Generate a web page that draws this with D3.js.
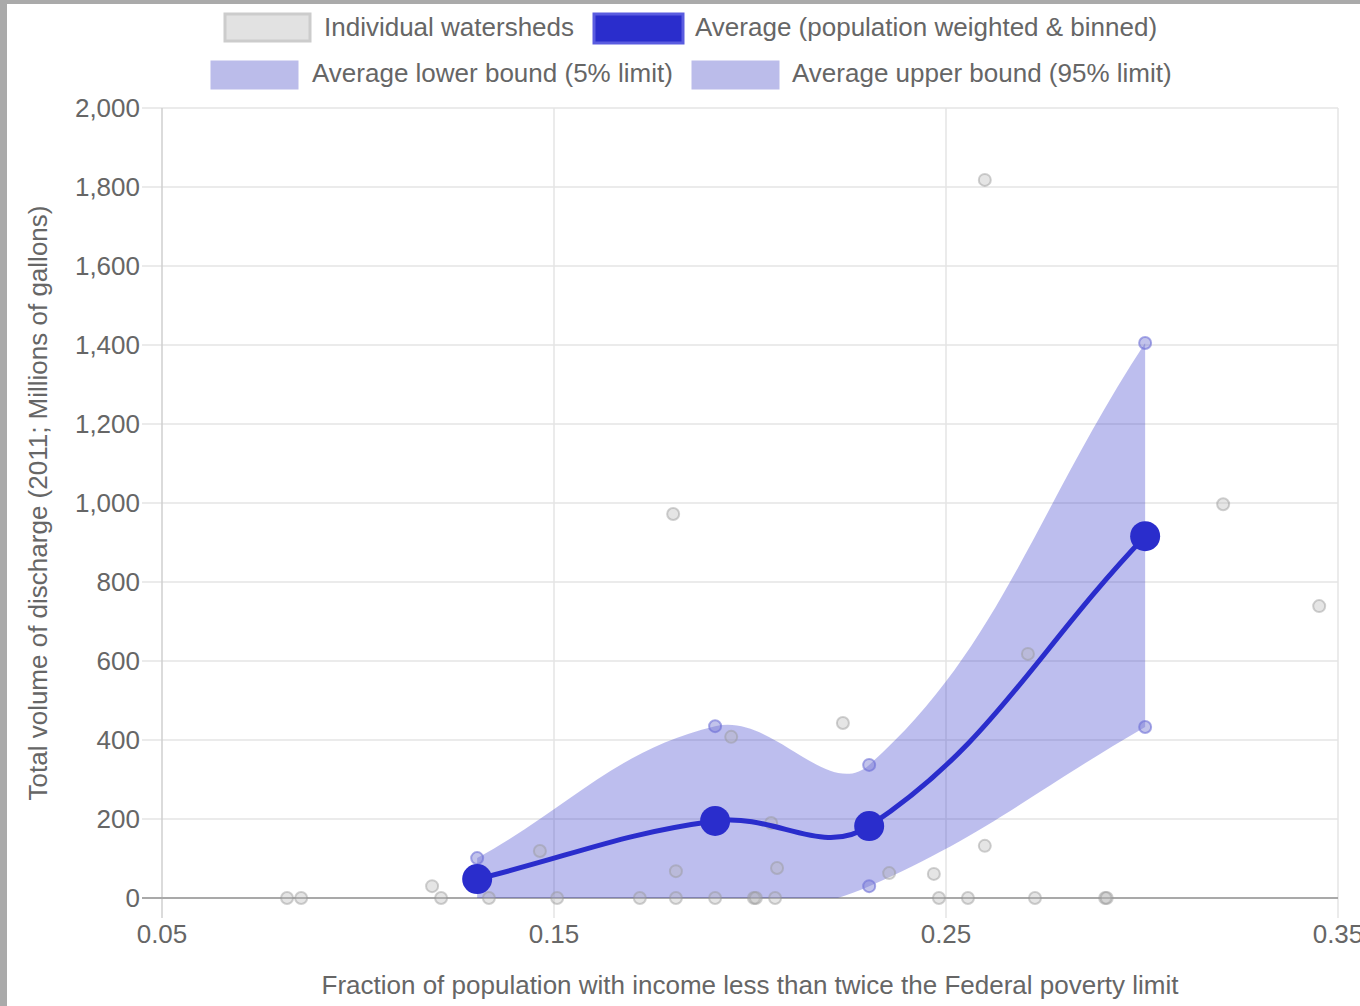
<!DOCTYPE html>
<html><head><meta charset="utf-8">
<script src="https://cdn.jsdelivr.net/npm/d3@7"></script>
<style>
html,body{margin:0;padding:0;background:#aaaaaa;}
svg{display:block;font-family:"Liberation Sans",Arial,sans-serif;}
</style></head>
<body>
<svg id="chart" width="1360" height="1006"></svg>
<script>
// ---- data ----
const xTicks = [0.05, 0.15, 0.25, 0.35];
const yTicks = [0, 200, 400, 600, 800, 1000, 1200, 1400, 1600, 1800, 2000];
const watershedX = [0.0819,0.0855,0.1189,0.1212,0.1334,0.1464,0.1508,0.1719,0.1811,0.1811,0.1804,0.1911,0.1952,0.2010,0.2015,0.2054,0.2069,0.2064,0.2237,0.2355,0.2469,0.2482,0.2556,0.2599,0.2599,0.2709,0.2727,0.2906,0.2910,0.3207,0.3452];
const watershedY = [0,0,30,0,0,119,0,0,68,0,972,0,408,0,0,190,76,0,443,63,61,0,0,132,1818,618,0,0,0,997,739];
const binX = [0.1304, 0.1911, 0.2304, 0.3008];
const avgY = [48, 195, 182, 916];
const lowerY = [-20, -40, 30, 433];
const upperY = [101, 435, 337, 1405];
const legendLabels = ["Individual watersheds","Average (population weighted & binned)","Average lower bound (5% limit)","Average upper bound (95% limit)"];
const xTitle = "Fraction of population with income less than twice the Federal poverty limit";
const yTitle = "Total volume of discharge (2011; Millions of gallons)";

const svg = d3.select("#chart");
// frame
svg.append("rect").attr("x",0).attr("y",0).attr("width",1360).attr("height",1006).attr("fill","#aaaaaa");
svg.append("rect").attr("x",7).attr("y",4).attr("width",1353).attr("height",1002).attr("fill","#ffffff");

const L=162,R=1338,T=108,B=898;
const x = d3.scaleLinear().domain([0.05,0.35]).range([L,R]);
const y = d3.scaleLinear().domain([0,2000]).range([B,T]);
const textCol = "#666666";
const fs = 26;

svg.append("defs").append("clipPath").attr("id","area")
  .append("rect").attr("x",L-20).attr("y",T-20).attr("width",R-L+40).attr("height",B-T+20);

// grid
const g = svg.append("g");
g.selectAll("line.h").data(yTicks).join("line")
  .attr("x1",L-20).attr("x2",R).attr("y1",d=>y(d)).attr("y2",d=>y(d))
  .attr("stroke",d=>d===0?"#a9a9a9":"#e4e4e4").attr("stroke-width",d=>d===0?2:1.5);
g.selectAll("line.v").data(xTicks).join("line")
  .attr("y1",T).attr("y2",B+20).attr("x1",d=>x(d)).attr("x2",d=>x(d))
  .attr("stroke",d=>d===0.05?"#cfcfcf":"#e4e4e4").attr("stroke-width",1.5);
g.append("line").attr("x1",L-20).attr("x2",R).attr("y1",y(0)).attr("y2",y(0)).attr("stroke","#a9a9a9").attr("stroke-width",2);

// tick labels
g.selectAll("text.yt").data(yTicks).join("text")
  .attr("x",L-22).attr("y",d=>y(d)).attr("dy","0.35em").attr("text-anchor","end")
  .attr("fill",textCol).attr("font-size",fs).text(d=>d3.format(",")(d));
g.selectAll("text.xt").data(xTicks).join("text")
  .attr("x",d=>x(d)).attr("y",B+36).attr("dy","0.35em").attr("text-anchor","middle")
  .attr("fill",textCol).attr("font-size",fs).text(d=>d3.format(".2f")(d));

// axis titles
svg.append("text").attr("x",(L+R)/2).attr("y",985).attr("dy","0.35em").attr("text-anchor","middle")
  .attr("fill",textCol).attr("font-size",fs).text(xTitle);
svg.append("text").attr("transform",`translate(38,${(T+B)/2}) rotate(-90)`).attr("dy","0.35em")
  .attr("text-anchor","middle").attr("fill",textCol).attr("font-size",fs).text(yTitle);

// Chart.js-style spline
function ctrlPoints(pts, t){
  return pts.map((p,i)=>{
    const prev = pts[i-1]||p, next = pts[i+1]||p;
    const d01 = Math.hypot(p[0]-prev[0],p[1]-prev[1]);
    const d12 = Math.hypot(next[0]-p[0],next[1]-p[1]);
    let s01 = d01/(d01+d12), s12 = d12/(d01+d12);
    if(!isFinite(s01)) s01=0; if(!isFinite(s12)) s12=0;
    const fa=t*s01, fb=t*s12;
    return {
      prev:[p[0]-fa*(next[0]-prev[0]), p[1]-fa*(next[1]-prev[1])],
      next:[p[0]+fb*(next[0]-prev[0]), p[1]+fb*(next[1]-prev[1])]
    };
  });
}
function splinePath(pts, t, path, moveFirst){
  const cps = ctrlPoints(pts,t);
  pts.forEach((p,i)=>{
    if(i===0){ if(moveFirst) path.moveTo(p[0],p[1]); else path.lineTo(p[0],p[1]); }
    else path.bezierCurveTo(cps[i-1].next[0],cps[i-1].next[1],cps[i].prev[0],cps[i].prev[1],p[0],p[1]);
  });
}
const tension = 0.4;
const upPts = binX.map((d,i)=>[x(d),y(upperY[i])]);
const loPts = binX.map((d,i)=>[x(d),y(lowerY[i])]);
const avPts = binX.map((d,i)=>[x(d),y(avgY[i])]);

// band (clipped to chart area)
const bp = d3.path();
splinePath(upPts,tension,bp,true);
splinePath(loPts.slice().reverse(),tension,bp,false);
bp.closePath();
svg.append("g").attr("clip-path","url(#area)")
  .append("path").attr("d",bp.toString()).attr("fill","#2a2dc8").attr("fill-opacity",0.31);

// watersheds scatter
svg.append("g").selectAll("circle").data(watershedX.map((d,i)=>[d,watershedY[i]])).join("circle")
  .attr("cx",d=>x(d[0])).attr("cy",d=>y(d[1])).attr("r",6)
  .attr("fill","rgba(180,180,180,0.35)").attr("stroke","rgba(150,150,150,0.45)").attr("stroke-width",2);

// bound points (only those inside the chart area)
const boundPts = binX.map((d,i)=>[d,lowerY[i]]).concat(binX.map((d,i)=>[d,upperY[i]])).filter(d=>d[1]>=0);
svg.append("g").selectAll("circle").data(boundPts).join("circle")
  .attr("cx",d=>x(d[0])).attr("cy",d=>y(d[1])).attr("r",6)
  .attr("fill","rgba(120,122,210,0.45)").attr("stroke","rgba(110,112,215,0.6)").attr("stroke-width",2);

// average line
const ap = d3.path();
splinePath(avPts,tension,ap,true);
svg.append("path").attr("d",ap.toString()).attr("fill","none").attr("stroke","#2a2dcc").attr("stroke-width",5);
svg.append("g").selectAll("circle").data(avPts).join("circle")
  .attr("cx",d=>d[0]).attr("cy",d=>d[1]).attr("r",15).attr("fill","#2a2dcc");

// legend
const leg = svg.append("g");
const items = [
  {bx:225,by:14,w:85,h:27,fill:"#e2e2e2",stroke:"#cccccc",tx:324,ty:27},
  {bx:594,by:14,w:89,h:29,fill:"#2a2dcc",stroke:"#5a5ce0",tx:695,ty:27},
  {bx:212,by:62,w:85,h:26,fill:"#bbbcea",stroke:"#bbbcea",tx:312,ty:73},
  {bx:693,by:62,w:85,h:26,fill:"#bbbcea",stroke:"#bbbcea",tx:792,ty:73}
];
items.forEach((it,i)=>{
  leg.append("rect").attr("x",it.bx).attr("y",it.by).attr("width",it.w).attr("height",it.h)
    .attr("fill",it.fill).attr("stroke",it.stroke).attr("stroke-width",3);
  leg.append("text").attr("x",it.tx).attr("y",it.ty).attr("dy","0.35em").attr("fill",textCol)
    .attr("font-size",fs).text(legendLabels[i]);
});
</script>
</body></html>
